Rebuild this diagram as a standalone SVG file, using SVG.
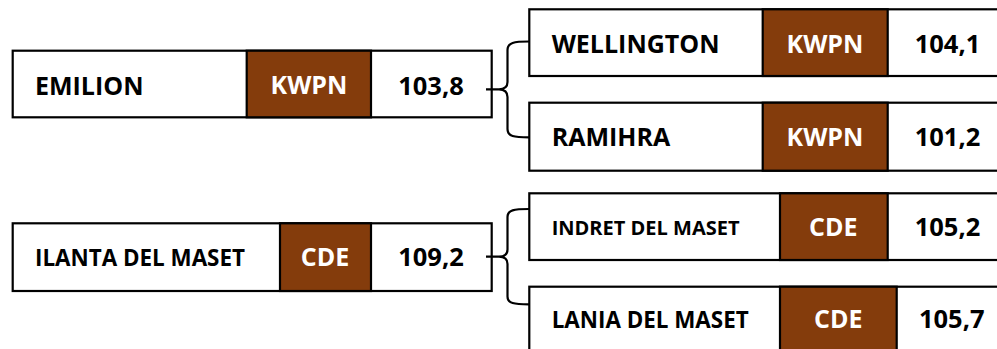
<svg xmlns="http://www.w3.org/2000/svg" width="997" height="349" viewBox="0 0 997 349">
<style>
.box{fill:#fff;stroke:#000;stroke-width:2.2}
.br{fill:#843C0C;stroke:#000;stroke-width:2.2}
.t{font-family:"Open Sans","Liberation Sans",sans-serif;font-weight:700;fill:#000}
.w{fill:#fff}
.m{text-anchor:middle}
.c{fill:none;stroke:#000;stroke-width:2.2}
</style>
<rect width="997" height="349" fill="#fff"/>
<g id="emilion">
<rect class="box" x="12.7" y="50.7" width="479" height="66.6"/>
<rect class="br" x="246.7" y="50.7" width="124.3" height="66.6"/>
<text class="t" x="35" y="95" font-size="25">EMILION</text>
<text class="t w m" x="309" y="94" font-size="25">KWPN</text>
<text class="t m" x="431" y="95" font-size="25.5">103,8</text>
</g>
<g id="wellington">
<rect class="box" x="529.3" y="9.3" width="480" height="66.7"/>
<rect class="br" x="762.7" y="9.3" width="125" height="66.7"/>
<text class="t" x="551.7" y="53.3" font-size="25">WELLINGTON</text>
<text class="t w m" x="825" y="53.3" font-size="25">KWPN</text>
<text class="t m" x="947.5" y="53.3" font-size="25.5">104,1</text>
</g>
<g id="ramihra">
<rect class="box" x="529.3" y="102.7" width="480" height="68"/>
<rect class="br" x="762.7" y="102.7" width="125" height="68"/>
<text class="t" x="551.7" y="145.7" font-size="25">RAMIHRA</text>
<text class="t w m" x="825" y="145.7" font-size="25">KWPN</text>
<text class="t m" x="947.5" y="145.7" font-size="25.5">101,2</text>
</g>
<g id="ilanta">
<rect class="box" x="12.7" y="223.3" width="479" height="67.7"/>
<rect class="br" x="280" y="223.3" width="91" height="67.7"/>
<text class="t" x="35" y="266" font-size="22.4">ILANTA DEL MASET</text>
<text class="t w m" x="325" y="266" font-size="25">CDE</text>
<text class="t m" x="431" y="266" font-size="25.5">109,2</text>
</g>
<g id="indret">
<rect class="box" x="529.3" y="193.3" width="480" height="66.7"/>
<rect class="br" x="780" y="193.3" width="107.7" height="66.7"/>
<text class="t" x="551.7" y="235" font-size="20">INDRET DEL MASET</text>
<text class="t w m" x="833.3" y="236" font-size="25">CDE</text>
<text class="t m" x="947.5" y="236" font-size="25.5">105,2</text>
</g>
<g id="lania">
<rect class="box" x="529.3" y="286.7" width="480" height="70"/>
<rect class="br" x="780" y="286.7" width="116.7" height="70"/>
<text class="t" x="551.7" y="328.3" font-size="22.4">LANIA DEL MASET</text>
<text class="t w m" x="838.3" y="328.3" font-size="25">CDE</text>
<text class="t m" x="951.7" y="328.3" font-size="25.5">105,7</text>
</g>
<g id="connectors">
<path class="c" d="M486,89.3 L500,89.3 M529,41.5 C514,41.5 507.5,42.5 507.5,50 L507.5,82 C507.5,87 505,89.2 499,89.3 C505,89.4 507.5,92 507.5,97 L507.5,129 C507.5,136.5 514,137.3 529,137.3"/>
<path class="c" d="M486,256.7 L500,256.7 M529,209 C514,209 507.5,210 507.5,217 L507.5,249.5 C507.5,254.5 505,256.6 499,256.7 C505,256.8 507.5,259 507.5,264 L507.5,296.5 C507.5,303.5 514,304.3 529,304.3"/>
</g>
</svg>
